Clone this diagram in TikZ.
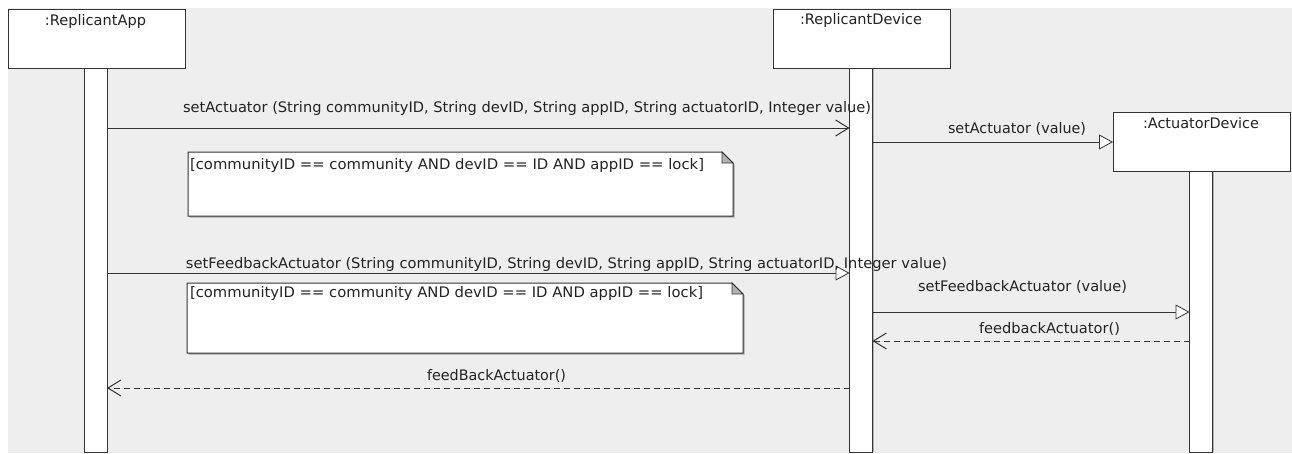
\documentclass[tikz,border=0pt]{standalone}
\usepackage{fontspec}
\setmainfont{DejaVu Sans}
\usetikzlibrary{arrows.meta,shadows,calc}
\definecolor{bg}{HTML}{EEEEEE}
\definecolor{ln}{HTML}{333333}
\definecolor{tx}{HTML}{222222}
\newcommand\fitw[2]{\resizebox{#1pt}{\height}{#2}}
\begin{document}
\begin{tikzpicture}[x=1pt,y=-1pt,
  every node/.style={inner sep=0pt, outer sep=0pt},
  lbl/.style={text=tx, font=\fontsize{14.5}{16}\selectfont},
  obj/.style={draw=ln, line width=1pt, fill=white, rectangle,
    general shadow={fill=black!45, shadow xshift=1.2pt, shadow yshift=-1.2pt}},
  bar/.style={draw=ln, line width=1pt, fill=white, rectangle, minimum width=23pt,
    general shadow={fill=black!30, shadow xshift=1.2pt, shadow yshift=0pt}},
  call/.style={draw=ln, line width=1pt, -{Straight Barb[length=13pt,width=16pt]}},
  sig/.style={draw=ln, line width=1pt, -{Triangle[length=14pt,width=15pt,fill=white,line width=0.8pt]}},
  ret/.style={draw=ln, line width=1pt, dash pattern=on 6pt off 4pt, -{Straight Barb[length=13pt,width=16pt]}},
  notebox/.style={rectangle, draw=none}
]
\useasboundingbox (0,0) rectangle (1292,453);
\fill[white] (0,0) rectangle (1292,453);
\fill[bg] (8,8) rectangle (1292,453);

% lifeline bars
\node[bar, minimum height=384pt, anchor=north] (appbar) at (95.5,68) {};
\node[bar, minimum height=384pt, anchor=north] (devbar) at (861,68) {};
\node[bar, minimum height=281pt, anchor=north] (actbar) at (1201,171) {};

% object boxes
\node[obj, minimum width=177pt, minimum height=59pt, anchor=north west] (app) at (8,9) {};
\node[obj, minimum width=177pt, minimum height=59pt, anchor=north west] (dev) at (773,9) {};
\node[obj, minimum width=177pt, minimum height=59pt, anchor=north west] (act) at (1113,112) {};
\node[lbl] (applbl) at (95.5,21) {\fitw{101}{:ReplicantApp}};
\node[lbl] (devlbl) at (861,20) {\fitw{122}{:ReplicantDevice}};
\node[lbl] (actlbl) at (1201,123) {\fitw{116}{:ActuatorDevice}};

% notes
\node[notebox, minimum width=545pt, minimum height=64pt, anchor=north west] (n1) at (188,152) {};
\node[notebox, minimum width=556pt, minimum height=70pt, anchor=north west] (n2) at (187,283) {};
\foreach \n in {n1,n2}{
  \fill[black!35] ($(\n.north west)+(1.5,1.5)$) -- ($(\n.north east)+(-11,0)+(1.5,1.5)$) -- ($(\n.north east)+(0,11)+(1.5,1.5)$) -- ($(\n.south east)+(1.5,1.5)$) -- ($(\n.south west)+(1.5,1.5)$) -- cycle;
  \filldraw[draw=ln, line width=1pt, fill=white] (\n.north west) -- ($(\n.north east)+(-11,0)$) -- ($(\n.north east)+(0,11)$) -- (\n.south east) -- (\n.south west) -- cycle;
  \filldraw[draw=ln, line width=0.8pt, fill=black!30] ($(\n.north east)+(-11,0)$) -- ($(\n.north east)+(-11,11)$) -- ($(\n.north east)+(0,11)$) -- cycle;
}
\node[lbl, anchor=west] (n1t) at (190,165) {\fitw{514}{[communityID == community AND devID == ID AND appID == lock]}};
\node[lbl, anchor=west] (n2t) at (190,293) {\fitw{513}{[communityID == community AND devID == ID AND appID == lock]}};

% messages
\draw[call] (appbar.east |- 0,128) -- (devbar.west |- 0,128);
\node[lbl] (m1) at (527,108) {\fitw{688}{setActuator (String communityID, String devID, String appID, String actuatorID, Integer value)}};

\draw[sig] (devbar.east |- 0,142) -- (act.west |- 0,142);
\node[lbl] (m2) at (1017,129) {\fitw{138}{setActuator (value)}};

\draw[sig] (appbar.east |- 0,273) -- (devbar.west |- 0,273);
\node[lbl] (m3) at (566.5,264) {\fitw{761}{setFeedbackActuator (String communityID, String devID, String appID, String actuatorID, Integer value)}};

\draw[sig] (devbar.east |- 0,312) -- (actbar.west |- 0,312);
\node[lbl] (m4) at (1022.5,287) {\fitw{209}{setFeedbackActuator (value)}};

\draw[ret] (actbar.west |- 0,341) -- (devbar.east |- 0,341);
\node[lbl] (m5) at (1049.5,329) {\fitw{141}{feedbackActuator()}};

\draw[ret] (devbar.west |- 0,388) -- (appbar.east |- 0,388);
\node[lbl] (m6) at (496.5,376) {\fitw{139}{feedBackActuator()}};
\end{tikzpicture}
\end{document}
